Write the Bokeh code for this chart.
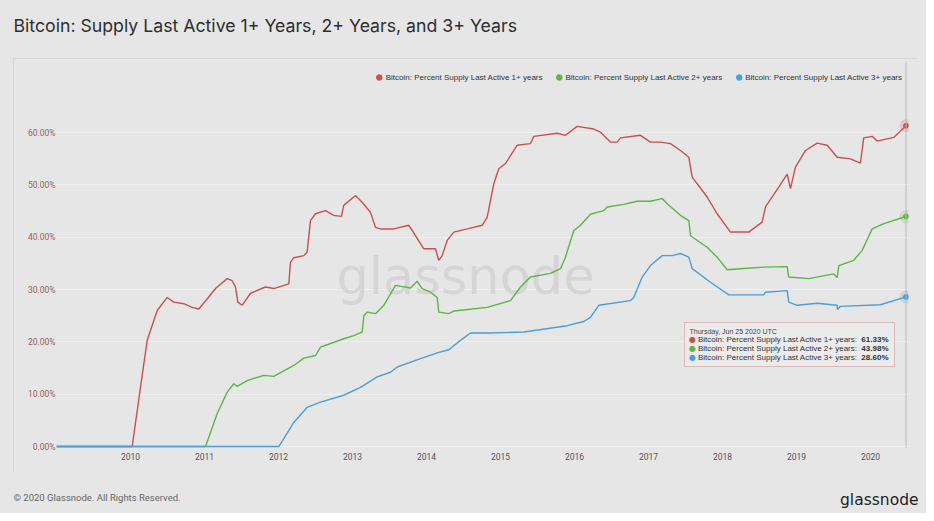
from bokeh.plotting import figure
from bokeh.layouts import column
from bokeh.models import (Label, BoxAnnotation, Span, Legend, LegendItem,
                          FixedTicker, PrintfTickFormatter, Range1d)
from bokeh.embed import file_html
from bokeh.resources import INLINE

# ---------------- data (decimal year, percent of supply) ----------------
years_1y = [2009.0, 2010.023, 2010.135, 2010.226, 2010.361, 2010.496, 2010.585, 2010.72, 2010.834,
            2010.923, 2011.036, 2011.149, 2011.307, 2011.374, 2011.419, 2011.45, 2011.509, 2011.622,
            2011.824, 2011.936, 2012.139, 2012.162, 2012.207, 2012.342, 2012.388, 2012.432, 2012.5,
            2012.635, 2012.747, 2012.851, 2012.882, 2013.041, 2013.131, 2013.243, 2013.311, 2013.378,
            2013.558, 2013.761, 2013.807, 2013.919, 2013.964, 2014.122, 2014.166, 2014.212, 2014.28,
            2014.369, 2014.55, 2014.753, 2014.82, 2014.909, 2014.977, 2015.068, 2015.226, 2015.405,
            2015.45, 2015.766, 2015.878, 2016.036, 2016.261, 2016.351, 2016.486, 2016.577, 2016.622,
            2016.892, 2017.027, 2017.162, 2017.297, 2017.432, 2017.545, 2017.591, 2017.793, 2017.928,
            2018.108, 2018.355, 2018.536, 2018.581, 2018.761, 2018.874, 2018.919, 2018.986, 2019.122,
            2019.28, 2019.415, 2019.55, 2019.73, 2019.865, 2019.909, 2020.023, 2020.091, 2020.315,
            2020.481]
pct_1y = [0.0, 0.0, 11.3, 20.3, 26.0, 28.5, 27.6, 27.3, 26.6,
          26.3, 28.2, 30.2, 32.1, 31.7, 30.5, 27.6, 27.0, 29.3,
          30.5, 30.2, 31.1, 35.2, 36.1, 36.5, 37.2, 43.2, 44.5,
          45.1, 44.2, 44.0, 46.1, 48.0, 46.7, 44.8, 41.9, 41.6,
          41.6, 42.3, 41.3, 38.8, 37.8, 37.8, 35.6, 36.5, 39.4,
          41.0, 41.6, 42.3, 43.8, 50.2, 53.1, 54.1, 57.6, 57.9,
          59.3, 59.9, 59.5, 61.2, 60.7, 60.1, 58.2, 58.2, 59.0,
          59.5, 58.2, 58.2, 57.9, 56.6, 55.3, 51.5, 47.7, 44.5,
          41.0, 41.0, 42.9, 45.8, 49.6, 52.1, 49.3, 53.4, 56.6,
          58.0, 57.6, 55.3, 55.0, 54.2, 59.0, 59.3, 58.4, 59.1,
          61.33]

years_2y = [2009.0, 2011.014, 2011.172, 2011.307, 2011.396, 2011.442, 2011.577, 2011.801, 2011.936,
            2012.207, 2012.342, 2012.5, 2012.568, 2012.882, 2013.018, 2013.131, 2013.153, 2013.199,
            2013.311, 2013.423, 2013.581, 2013.784, 2013.874, 2013.942, 2014.054, 2014.145, 2014.166,
            2014.301, 2014.369, 2014.82, 2015.135, 2015.27, 2015.405, 2015.676, 2015.811, 2015.878,
            2015.991, 2016.081, 2016.216, 2016.396, 2016.442, 2016.666, 2016.847, 2017.027, 2017.185,
            2017.253, 2017.432, 2017.545, 2017.568, 2017.793, 2017.928, 2018.064, 2018.243, 2018.558,
            2018.874, 2018.896, 2019.166, 2019.504, 2019.55, 2019.572, 2019.774, 2019.888, 2020.023,
            2020.18, 2020.481]
pct_2y = [0.0, 0.0, 6.3, 10.4, 12.0, 11.5, 12.6, 13.6, 13.4,
          15.5, 16.9, 17.4, 19.0, 20.6, 21.2, 21.9, 25.0, 25.7,
          25.4, 27.0, 30.8, 30.3, 31.6, 30.2, 29.5, 28.5, 25.7,
          25.4, 25.9, 26.6, 27.9, 30.5, 32.4, 33.1, 34.0, 36.2,
          41.3, 42.3, 44.4, 45.1, 45.8, 46.3, 46.9, 46.9, 47.4,
          46.4, 44.2, 43.2, 40.3, 38.1, 36.2, 33.8, 34.0, 34.3,
          34.4, 32.4, 32.1, 33.0, 32.3, 34.6, 35.6, 37.5, 41.6,
          42.6, 43.98]

years_3y = [2009.0, 2012.004, 2012.207, 2012.388, 2012.568, 2012.882, 2013.108, 2013.334, 2013.514,
            2013.604, 2013.919, 2014.145, 2014.301, 2014.459, 2014.595, 2014.865, 2015.315, 2015.901,
            2016.126, 2016.216, 2016.328, 2016.757, 2016.801, 2016.915, 2017.027, 2017.185, 2017.32,
            2017.432, 2017.545, 2017.591, 2017.838, 2018.085, 2018.558, 2018.581, 2018.874, 2018.896,
            2019.009, 2019.28, 2019.55, 2019.554, 2019.595, 2020.135, 2020.481]
pct_3y = [0.0, 0.0, 4.6, 7.5, 8.5, 9.8, 11.3, 13.3, 14.2,
          15.2, 16.8, 17.9, 18.5, 20.3, 21.7, 21.7, 21.9, 23.1,
          23.9, 24.7, 27.0, 27.9, 28.5, 32.4, 34.6, 36.5, 36.5,
          36.9, 36.2, 34.0, 31.4, 29.0, 29.0, 29.5, 29.8, 27.6,
          27.0, 27.4, 27.0, 26.2, 26.8, 27.1, 28.60]

series_names = ["Bitcoin: Percent Supply Last Active 1+ years",
                "Bitcoin: Percent Supply Last Active 2+ years",
                "Bitcoin: Percent Supply Last Active 3+ years"]
x_ticks = [2010, 2011, 2012, 2013, 2014, 2015, 2016, 2017, 2018, 2019, 2020]
y_ticks = [0, 10, 20, 30, 40, 50, 60]
hover_date = "Thursday, Jun 25 2020 UTC"
hover_year = 2020.481

title_text = "Bitcoin: Supply Last Active 1+ Years,  2+ Years, and 3+ Years"
footer_text = "\u00a9 2020 Glassnode. All Rights Reserved."
brand_text = "glassnode"

RED, GREEN, BLUE = "#c9504f", "#5cb545", "#4b9ed8"
colors = [RED, GREEN, BLUE]
BG = "#e6e6e6"
W = 926


def plain_fig(h):
    f = figure(width=W, height=h, output_backend="svg", toolbar_location=None, title=None,
               x_range=Range1d(0, 1), y_range=Range1d(0, 1),
               x_axis_type=None, y_axis_type=None, frame_align=False,
               min_border_left=0, min_border_right=0, min_border_top=0, min_border_bottom=0)
    f.background_fill_color = BG
    f.border_fill_color = BG
    f.outline_line_color = None
    f.grid.visible = False
    return f


# ---------------- header (page y 0..58) ----------------
header = plain_fig(58)
header.add_layout(Label(x=13, y=58 - 25, x_units="screen", y_units="screen", text=title_text,
                        text_font="Inter", text_font_size="17.7px", text_color="#2e2e2e",
                        text_baseline="middle"))

# ---------------- main panel (page x 13..918, y 58..473) ----------------
p = figure(width=905, height=415, output_backend="svg", toolbar_location=None, title=None,
           x_range=Range1d(2009.0, 2020.514), y_range=Range1d(-0.38, 73.42),
           min_border_left=43, min_border_right=10, min_border_top=4, min_border_bottom=25,
           margin=(0, 0, 0, 13), frame_align=False,
           styles={"outline": "1px solid #d3d3d3", "outline-offset": "-1px"})
p.background_fill_color = BG
p.border_fill_color = BG
p.outline_line_color = None

p.xgrid.grid_line_color = None
p.ygrid.grid_line_color = "#f0f0f0"
p.ygrid.ticker = FixedTicker(ticks=y_ticks)

p.xaxis.ticker = FixedTicker(ticks=x_ticks)
p.xaxis.formatter = PrintfTickFormatter(format="%d")
p.xaxis.axis_line_color = None
p.xaxis.major_tick_line_color = None
p.xaxis.minor_tick_line_color = None
p.xaxis.major_tick_out = 0
p.xaxis.major_tick_in = 0
p.xaxis.minor_tick_out = 0
p.xaxis.major_label_text_font = "Roboto"
p.xaxis.major_label_text_font_size = "8.5px"
p.xaxis.major_label_text_color = "#555555"
p.xaxis.major_label_standoff = 4

p.yaxis.ticker = FixedTicker(ticks=y_ticks)
p.yaxis.formatter = PrintfTickFormatter(format="%.2f%%")
p.yaxis.axis_line_color = None
p.yaxis.major_tick_line_color = None
p.yaxis.minor_tick_line_color = None
p.yaxis.major_tick_out = 0
p.yaxis.major_tick_in = 0
p.yaxis.minor_tick_out = 0
p.yaxis.major_label_text_font = "Roboto"
p.yaxis.major_label_text_font_size = "8.5px"
p.yaxis.major_label_text_color = "#9b5c5c"
p.yaxis.major_label_standoff = 1


# frame-relative screen helpers (frame left = page x 56, frame bottom = page y 448)
def sx(px):
    return px - 56


def sy(py):
    return 448 - py


# watermark
p.add_layout(Label(x=sx(465), y=sy(276), x_units="screen", y_units="screen", text=brand_text,
                   text_font="DejaVu Sans", text_font_size="51px", text_color="#d5d5d5",
                   text_align="center", text_baseline="middle", level="underlay"))

# crosshair
p.add_layout(Span(location=hover_year, dimension="height", line_color="#b8b8b8", line_width=1))

# series lines
all_x = [years_1y, years_2y, years_3y]
all_y = [pct_1y, pct_2y, pct_3y]
dots = []
for xs, ys, c in zip(all_x, all_y, colors):
    p.line(xs, ys, line_color=c, line_width=1.4)
    p.scatter([xs[-1]], [ys[-1]], size=13, fill_color=c, fill_alpha=0.22, line_color=None)
    dots.append(p.scatter([xs[-1]], [ys[-1]], size=5, fill_color=c, line_color=c))

legend = Legend(items=[LegendItem(label=n, renderers=[d]) for n, d in zip(series_names, dots)],
                location="top_right", orientation="horizontal",
                label_text_font="Liberation Sans", label_text_font_size="8px",
                label_text_color="#333333", glyph_width=14, glyph_height=18,
                label_standoff=0, spacing=9, padding=6, margin=0,
                border_line_alpha=0, background_fill_alpha=0)
p.add_layout(legend)

# tooltip box
p.add_layout(BoxAnnotation(left=sx(684), right=sx(894), top=sy(322), bottom=sy(366),
                           left_units="screen", right_units="screen",
                           top_units="screen", bottom_units="screen",
                           fill_color="#ebebeb", fill_alpha=0.95,
                           line_color="#c0504d", line_width=1))
p.add_layout(Label(x=sx(689), y=sy(331), x_units="screen", y_units="screen", text=hover_date,
                   text_font="Liberation Sans", text_font_size="7px", text_color="#444444",
                   text_baseline="middle"))
row_y = [339.3, 348, 356.7]
for i in range(3):
    val = all_y[i][-1]
    p.add_layout(Label(x=sx(692), y=sy(row_y[i]), x_units="screen", y_units="screen",
                       text="\u25cf", text_font="DejaVu Sans", text_font_size="8px",
                       text_color=colors[i], text_align="center", text_baseline="middle"))
    p.add_layout(Label(x=sx(697.5), y=sy(row_y[i]), x_units="screen", y_units="screen",
                       text=series_names[i] + ":", text_font="Liberation Sans",
                       text_font_size="8px", text_color="#333333", text_baseline="middle"))
    p.add_layout(Label(x=sx(888), y=sy(row_y[i]), x_units="screen", y_units="screen",
                       text="%.2f%%" % val, text_font="Liberation Sans", text_font_style="bold",
                       text_font_size="8px", text_color="#333333", text_align="right",
                       text_baseline="middle"))

# ---------------- footer (page y 473..513) ----------------
footer = plain_fig(40)
footer.add_layout(Label(x=13, y=513 - 497, x_units="screen", y_units="screen", text=footer_text,
                        text_font="Roboto", text_font_size="9.5px", text_color="#666666",
                        text_baseline="middle"))
footer.add_layout(Label(x=918, y=513 - 499, x_units="screen", y_units="screen", text=brand_text,
                        text_font="DejaVu Sans", text_font_size="15.5px", text_color="#1e1e1e",
                        text_align="right", text_baseline="middle"))

layout = column(header, p, footer, spacing=0, styles={"background-color": BG})

open("out.html", "w").write(file_html(layout, INLINE))
